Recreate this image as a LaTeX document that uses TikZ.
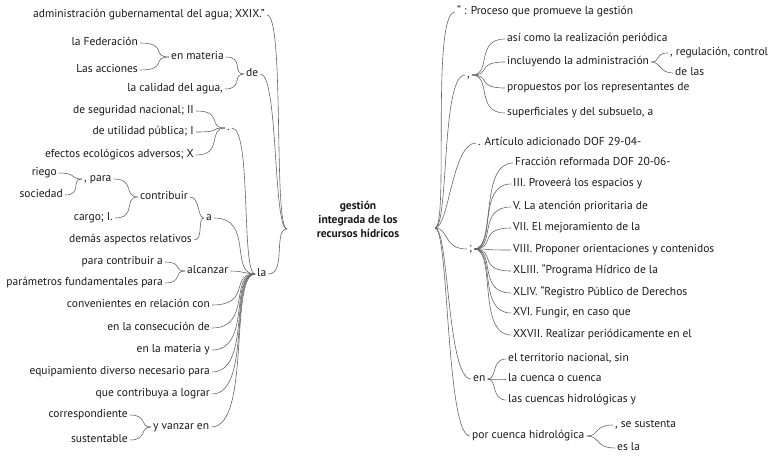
\documentclass[tikz,border=0pt]{standalone}
\usepackage{fontspec}
\setmainfont{PT Sans}
\tikzstyle{word}=[inner sep=2pt, text height=7.5pt, text depth=2pt, text=black!90, font=\fontsize{11.5}{13}\selectfont]
\tikzstyle{wordL}=[word, anchor=east]
\tikzstyle{wordR}=[word, anchor=west]
\tikzstyle{rootword}=[inner sep=0pt, align=center, text=black!90, font=\fontsize{11.5}{14}\selectfont\bfseries]
\tikzstyle{twig}=[draw=black!60, line width=0.6pt]

\begin{document}
\begin{tikzpicture}[x=1pt, y=-1pt]
    \useasboundingbox (0,0) rectangle (774,458);
    \node[rootword] (root) at (358,219) {gestión\\integrada de los\\recursos hídricos};
    \coordinate (rootL) at (287,229);
    \coordinate (rootR) at (435,228);
    % left half
    \node[wordL] (admin) at (267,15) {administración gubernamental del agua; XXIX.”};
    \node[wordR] (de) at (244,74) {de};
    \node[wordR] (enmat) at (169,57) {en materia};
    \node[wordL] (fed) at (140,43) {la Federación};
    \node[wordL] (acc) at (140,70) {Las acciones};
    \node[wordL] (calidad) at (225,89) {la calidad del agua,};
    \node[wordR] (la) at (255,274) {la};
    \node[wordR] (punto) at (225,128) {.};
    \node[wordL] (segur) at (196,111) {de seguridad nacional; II};
    \node[wordL] (util) at (196,132) {de utilidad pública; I};
    \node[wordL] (efect) at (196,155) {efectos ecológicos adversos; X};
    \node[wordR] (a) at (204,218) {a};
    \node[wordR] (contrib) at (138,197) {contribuir};
    \node[wordR] (para) at (82,179) {, para};
    \node[wordL] (riego) at (59,173) {riego};
    \node[wordL] (soc) at (65,195) {sociedad};
    \node[wordL] (cargo) at (115,218) {cargo; I.};
    \node[wordL] (demas) at (194,240) {demás aspectos relativos};
    \node[wordR] (alcan) at (185,271) {alcanzar};
    \node[wordL] (paracon) at (165,262) {para contribuir a};
    \node[wordL] (param) at (165,283) {parámetros fundamentales para};
    \node[wordL] (conv) at (212,305) {convenientes en relación con};
    \node[wordL] (consec) at (212,328) {en la consecución de};
    \node[wordL] (materia) at (212,350) {en la materia y};
    \node[wordL] (equip) at (212,372) {equipamiento diverso necesario para};
    \node[wordL] (logr) at (212,394) {que contribuya a lograr};
    \node[wordR] (vanzar) at (151,427) {y vanzar en};
    \node[wordL] (corresp) at (130,415) {correspondiente};
    \node[wordL] (sust) at (130,440) {sustentable};
    \foreach \n in {admin,de,la}
        \draw[twig] (\n.east) .. controls +(18,0) and +(-14,0) .. (rootL);
    \foreach \n in {enmat,calidad}
        \draw[twig] (\n.east) .. controls +(18,0) and +(-12,0) .. (de.west);
    \foreach \n in {fed,acc}
        \draw[twig] (\n.east) .. controls +(28,0) and +(-18,0) .. (enmat.west);
    \foreach \n in {segur,util,efect}
        \draw[twig] (\n.east) .. controls +(28,0) and +(-18,0) .. (punto.west);
    \foreach \n in {contrib,demas}
        \draw[twig] (\n.east) .. controls +(10,0) and +(-7,0) .. (a.west);
    \foreach \n in {para,cargo}
        \draw[twig] (\n.east) .. controls +(22,0) and +(-15,0) .. (contrib.west);
    \foreach \n in {riego,soc}
        \draw[twig] (\n.east) .. controls +(18,0) and +(-12,0) .. (para.west);
    \foreach \n in {paracon,param}
        \draw[twig] (\n.east) .. controls +(18,0) and +(-12,0) .. (alcan.west);
    \foreach \n in {corresp,sust}
        \draw[twig] (\n.east) .. controls +(18,0) and +(-12,0) .. (vanzar.west);
    \draw[twig] (punto.east) .. controls +(20,0) and +(-14,0) .. (la.west);
    \draw[twig] (a.east) .. controls +(40,0) and +(-26,0) .. (la.west);
    \draw[twig] (alcan.east) .. controls +(12,0) and +(-8,0) .. (la.west);
    \foreach \n in {conv,consec,materia,equip,logr,vanzar}
        \draw[twig] (\n.east) .. controls +(40,0) and +(-26,0) .. (la.west);
    % right half
    \node[wordR] (proc) at (455,12) {“ : Proceso que promueve la gestión};
    \node[wordR] (coma) at (465,75) {,};
    \node[wordR] (asi) at (505,39) {así como la realización periódica};
    \node[wordR] (incl) at (505,62) {incluyendo la administración};
    \node[wordR] (regul) at (668,53) {, regulación, control};
    \node[wordR] (delas) at (673,73) {de las};
    \node[wordR] (propu) at (505,88) {propuestos por los representantes de};
    \node[wordR] (superf) at (505,113) {superficiales y del subsuelo, a};
    \node[wordR] (artic) at (476,143) {. Artículo adicionado DOF 29-04-};
    \node[wordR] (pyc) at (467,249) {;};
    \node[wordR] (fracc) at (513,163) {Fracción reformada DOF 20-06-};
    \node[wordR] (iii) at (511,184) {III. Proveerá los espacios y};
    \node[wordR] (v) at (511,207) {V. La atención prioritaria de};
    \node[wordR] (vii) at (511,228) {VII. El mejoramiento de la};
    \node[wordR] (viii) at (511,250) {VIII. Proponer orientaciones y contenidos};
    \node[wordR] (xliii) at (511,271) {XLIII. “Programa Hídrico de la};
    \node[wordR] (xliv) at (511,293) {XLIV. “Registro Público de Derechos};
    \node[wordR] (xvi) at (511,313) {XVI. Fungir, en caso que};
    \node[wordR] (xxvii) at (511,335) {XXVII. Realizar periódicamente en el};
    \node[wordR] (en) at (471,379) {en};
    \node[wordR] (terr) at (506,359) {el territorio nacional, sin};
    \node[wordR] (cuenca) at (506,379) {la cuenca o cuenca};
    \node[wordR] (cuencas) at (506,400) {las cuencas hidrológicas y};
    \node[wordR] (porcu) at (470,436) {por cuenca hidrológica};
    \node[wordR] (sesus) at (613,425) {, se sustenta};
    \node[wordR] (esla) at (615,448) {es la};
    \foreach \n in {proc,coma,artic,pyc,en,porcu}
        \draw[twig] (rootR) .. controls +(14,0) and +(-24,0) .. (\n.west);
    \foreach \n in {asi,incl,propu,superf}
        \draw[twig] (coma.east) .. controls +(20,0) and +(-30,0) .. (\n.west);
    \foreach \n in {regul,delas}
        \draw[twig] (incl.east) .. controls +(10,0) and +(-14,0) .. (\n.west);
    \foreach \n in {fracc,iii,v,vii,viii,xliii,xliv,xvi,xxvii}
        \draw[twig] (pyc.east) .. controls +(22,0) and +(-34,0) .. (\n.west);
    \foreach \n in {terr,cuenca,cuencas}
        \draw[twig] (en.east) .. controls +(10,0) and +(-15,0) .. (\n.west);
    \foreach \n in {sesus,esla}
        \draw[twig] (porcu.east) .. controls +(14,0) and +(-20,0) .. (\n.west);
\end{tikzpicture}
\end{document}
